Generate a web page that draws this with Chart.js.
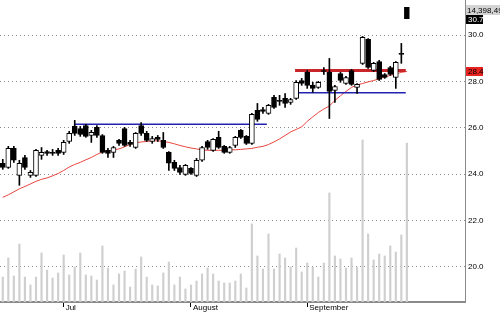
<!DOCTYPE html>
<html>
<head>
<meta charset="utf-8">
<script src="https://cdn.jsdelivr.net/npm/chart.js@4/dist/chart.umd.min.js"></script>
<style>
html, body { margin: 0; padding: 0; background: #fff; }
</style>
</head>
<body>
<canvas id="grafico" width="500" height="312"></canvas>
<script>
// Candles (um por pregão)
const opens = [24.47,24.29,25.11,23.95,24.72,23.95,23.95,24.81,24.98,24.94,
  25.03,24.94,25.41,26.06,25.97,26.10,25.67,26.02,25.67,25.03,
  24.94,25.46,25.97,25.37,25.15,26.10,25.76,25.41,25.59,25.46,
  24.94,24.51,24.29,23.99,24.25,23.95,24.60,25.41,25.03,25.59,
  25.20,24.94,25.24,25.89,25.63,25.33,26.75,26.79,26.62,27.31,
  27.18,27.27,27.09,27.27,28.04,28.39,27.83,27.74,28.47,28.39,
  27.61,28.34,27.91,28.47,27.74,28.78,29.81,28.47,28.86,28.30,
  28.60,28.17,29.21,31.19];
const highs = [24.64,25.20,25.20,24.60,24.81,24.16,25.07,25.15,25.03,25.07,
  25.11,25.46,25.85,26.32,26.06,26.15,25.89,26.10,25.71,25.11,
  25.20,25.50,26.02,25.46,25.80,26.23,25.85,25.63,25.67,25.80,
  24.98,24.60,24.38,24.42,24.29,24.68,25.20,25.46,25.54,25.85,
  25.24,25.20,25.63,25.93,25.67,26.62,27.05,26.88,27.01,27.40,
  27.40,27.48,27.27,28.04,28.13,28.47,27.96,28.00,28.60,28.99,
  27.83,28.39,28.22,28.52,27.91,29.94,29.85,28.82,28.91,28.34,
  28.65,28.86,29.64,31.19];
const lows = [24.21,24.25,24.51,23.52,24.21,23.86,23.90,24.64,24.81,24.81,
  24.81,24.85,25.33,25.67,25.63,25.59,25.37,25.59,24.90,24.72,
  24.72,25.24,25.20,25.20,25.11,25.67,25.41,25.33,25.41,25.11,
  24.16,24.16,23.99,23.95,23.99,23.90,24.55,25.07,24.98,25.11,
  24.90,24.90,25.15,25.54,25.28,25.28,26.28,26.62,26.58,26.84,
  26.97,26.88,27.01,27.22,27.83,27.70,27.53,27.70,28.30,26.40,
  27.09,27.96,27.87,27.83,27.48,28.73,28.56,28.43,28.04,28.13,
  28.26,27.70,28.78,30.70];
const closes = [24.29,25.11,24.60,24.47,24.29,24.08,25.03,24.94,24.90,24.90,
  24.90,25.37,25.76,25.76,25.71,25.63,25.80,25.67,24.94,24.90,
  25.15,25.33,25.24,25.28,25.76,25.76,25.46,25.54,25.50,25.15,
  24.47,24.25,24.08,24.38,24.03,24.60,25.15,25.15,25.50,25.15,
  24.94,25.15,25.59,25.59,25.33,26.58,26.36,26.71,26.97,26.88,
  27.14,27.05,27.22,27.96,27.91,27.83,27.70,27.96,28.43,27.57,
  27.78,28.04,28.17,27.87,27.87,29.90,28.60,28.78,28.09,28.17,
  28.30,28.82,29.16,30.70];
// volume em milhões
const volumes = [2.26,3.99,2.36,5.25,2.26,1.54,2.26,4.44,2.90,2.17,
  2.63,4.26,2.45,3.17,4.44,2.45,2.36,1.99,5.07,3.08,
  1.54,2.54,2.81,1.36,2.99,4.08,2.26,1.54,1.45,2.63,
  3.62,1.54,2.26,1.18,1.54,1.90,2.54,3.08,2.54,1.90,
  1.72,1.72,1.90,2.54,1.27,7.07,4.17,2.99,6.16,2.99,
  4.35,3.99,3.17,4.89,2.72,3.53,3.17,2.26,3.53,9.88,
  4.17,3.90,3.08,3.99,3.17,14.68,6.16,3.81,4.35,4.17,
  5.07,4.53,6.07,14.39849];
// média móvel
const media = [23.00,23.11,23.24,23.37,23.47,23.58,23.69,23.78,23.84,23.93,
  24.03,24.16,24.31,24.42,24.51,24.62,24.72,24.85,24.96,25.00,
  25.05,25.09,25.18,25.28,25.35,25.39,25.41,25.44,25.44,25.41,
  25.37,25.31,25.24,25.18,25.13,25.09,25.05,25.03,25.03,25.03,
  25.03,25.05,25.05,25.07,25.09,25.11,25.16,25.20,25.28,25.39,
  25.52,25.67,25.82,25.93,26.04,26.28,26.47,26.66,26.81,26.94,
  27.18,27.38,27.57,27.74,27.85,27.91,27.98,28.04,28.11,28.19,
  28.26,28.32,28.39,28.43];
const monthTicks = {11: 'Jul', 34: 'August', 55: 'September'};
const priceTicks = [20, 22, 24, 26, 28, 30];
// linhas horizontais: [inicio, fim, valor]
const linhaAzul1 = [13, 47.7, 26.15];
const linhaAzul2 = [52.8, 72.8, 27.51];
const linhaVermelha = [52.8, 72.8, 28.47];

const fonte = {family: '"Liberation Sans", Arial, sans-serif', size: 8};
const corpo = closes.map((c, i) => ({x: i, y: [opens[i], c]}));
const pavio = closes.map((c, i) => ({x: i, y: [lows[i], highs[i]]}));
const corCorpo = closes.map((c, i) => c >= opens[i] ? '#ffffff' : '#000000');
const linha = l => [{x: l[0], y: l[2]}, {x: l[1], y: l[2]}];

const etiquetas = {
  id: 'etiquetas',
  afterDraw(chart) {
    const {ctx, scales: {y}, chartArea} = chart;
    const x0 = chartArea.right + 1;
    ctx.save();
    ctx.font = '8px "Liberation Sans", Arial, sans-serif';
    ctx.textBaseline = 'middle';
    const vol = Math.round(volumes[volumes.length - 1] * 1e6).toLocaleString('en-US');
    ctx.fillStyle = '#d4d4d4';
    ctx.fillRect(x0, 5, 40, 10);
    ctx.fillStyle = '#000';
    ctx.fillText(vol, x0 + 1, 10.5);
    const yc = y.getPixelForValue(closes[closes.length - 1]);
    ctx.fillStyle = '#000';
    ctx.fillRect(x0, Math.round(yc) - 4, 17, 9);
    ctx.fillStyle = '#fff';
    ctx.fillText(closes[closes.length - 1].toFixed(1), x0 + 2, Math.round(yc) + 0.5);
    const ym = y.getPixelForValue(media[media.length - 1]);
    ctx.fillStyle = '#e8231f';
    ctx.fillRect(x0, Math.round(ym) - 4, 17, 9);
    ctx.fillStyle = '#000';
    ctx.fillText(media[media.length - 1].toFixed(1), x0 + 2, Math.round(ym) + 0.5);
    ctx.restore();
  }
};

new Chart(document.getElementById('grafico'), {
  type: 'bar',
  data: {
    datasets: [
      {type: 'bar', data: corpo, backgroundColor: corCorpo, borderColor: '#000', borderWidth: 1,
        borderSkipped: false, barThickness: 5, grouped: false, order: 1},
      {type: 'bar', data: pavio, backgroundColor: '#000', barThickness: 1, grouped: false, order: 2},
      {type: 'line', data: linha(linhaVermelha), borderColor: '#c8262a', borderWidth: 3, pointRadius: 0, order: 3},
      {type: 'line', data: linha(linhaAzul1), borderColor: '#2323b0', borderWidth: 1.5, pointRadius: 0, order: 3},
      {type: 'line', data: linha(linhaAzul2), borderColor: '#2323b0', borderWidth: 1.5, pointRadius: 0, order: 3},
      {type: 'line', data: media.map((v, i) => ({x: i, y: v})), borderColor: '#e8453f', borderWidth: 1,
        pointRadius: 0, tension: 0, order: 4},
      {type: 'bar', data: volumes.map((v, i) => ({x: i, y: v})), yAxisID: 'yv', backgroundColor: '#cfcfcf',
        barThickness: 1.5, grouped: false, order: 10}
    ]
  },
  options: {
    responsive: false,
    animation: false,
    layout: {padding: 0},
    plugins: {legend: {display: false}, tooltip: {enabled: false}},
    scales: {
      x: {
        type: 'linear', min: -0.5, max: 83.5, offset: false,
        afterBuildTicks: s => { s.ticks = Object.keys(monthTicks).map(k => ({value: +k})); },
        afterFit: s => { s.height = 10; s.paddingLeft = 0; s.paddingRight = 0; },
        ticks: {callback: v => monthTicks[v], align: 'start', labelOffset: 2, padding: -4,
          maxRotation: 0, autoSkip: false, font: fonte, color: '#000'},
        grid: {drawOnChartArea: false, tickLength: 5, color: '#000', offset: false},
        border: {color: '#8a8a8a', width: 2}
      },
      y: {
        position: 'right', min: 18.49, max: 31.51,
        afterBuildTicks: s => { s.ticks = priceTicks.map(v => ({value: v})); },
        afterFit: s => { s.width = 35; s.paddingTop = 0; s.paddingBottom = 0; },
        ticks: {callback: v => v.toFixed(1), padding: 3, font: fonte, color: '#000'},
        grid: {color: '#8c8c8c', drawTicks: false, lineWidth: 1},
        border: {color: '#8a8a8a', width: 1, dash: [1, 3]}
      },
      yv: {display: false, min: 0, max: 27.36}
    }
  },
  plugins: [etiquetas]
});
</script>
</body>
</html>
